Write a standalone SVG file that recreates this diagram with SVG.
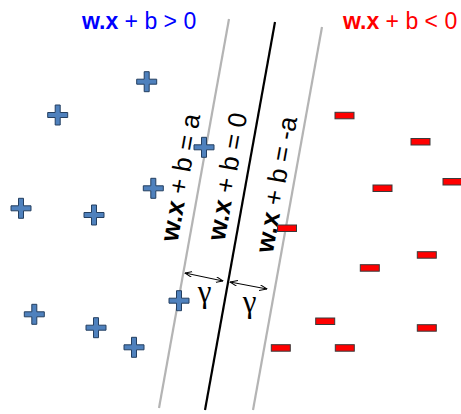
<svg xmlns="http://www.w3.org/2000/svg" xmlns:xlink="http://www.w3.org/1999/xlink" width="461" height="414" viewBox="0 0 461 414">
  <style>
    .sans { font-family: "Liberation Sans", Arial, sans-serif; }
    .hdr { font-size: 23px; }
    .eq { font-size: 26px; fill: #000; }
    .b { font-weight: bold; }
    .gamma { font-family: "Liberation Serif", "Times New Roman", serif; font-size: 31px; fill: #000; }
    .margin { stroke: #b4b4b4; stroke-width: 2.2; fill: none; }
    .boundary { stroke: #000; stroke-width: 2.2; fill: none; }
    .dim { stroke: #000; stroke-width: 1; fill: none; }
    .pos { fill: #4f81bd; stroke: #243f60; stroke-width: 1; }
    .neg { fill: #ff0000; stroke: #3a3a3a; stroke-width: 1; }
  </style>
  <defs>
    <path id="plus" d="M-2.5,-10 h5 v7.5 h7.5 v5 h-7.5 v7.5 h-5 v-7.5 h-7.5 v-5 h7.5 z"/>
    <rect id="minus" x="0" y="0" width="19" height="6.5"/>
    <marker id="tip" viewBox="0 0 8 6" refX="7.5" refY="3" markerWidth="8" markerHeight="6" markerUnits="userSpaceOnUse" orient="auto-start-reverse">
      <path d="M0,0 L7.5,3 L0,6" fill="none" stroke="#000" stroke-width="1"/>
    </marker>
  </defs>

  <rect width="461" height="414" fill="#fff"/>

  <!-- side labels -->
  <g id="label-positive">
    <text class="sans hdr" x="82" y="29" fill="#0000ff"><tspan class="b">w.x</tspan> + b &gt; 0</text>
  </g>
  <g id="label-negative">
    <text class="sans hdr" x="343" y="29" fill="#ff0000"><tspan class="b">w.x</tspan> + b &lt; 0</text>
  </g>

  <!-- separating hyperplane and margins -->
  <g id="lines">
    <line id="margin-pos" class="margin" x1="229" y1="19" x2="159" y2="408"/>
    <line id="hyperplane" class="boundary" x1="275" y1="22" x2="205" y2="410"/>
    <line id="margin-neg" class="margin" x1="322" y1="27" x2="253" y2="410"/>
  </g>

  <!-- line equations -->
  <g id="eq-pos">
    <text class="sans eq" text-anchor="middle" transform="translate(189,179) rotate(-79.8)"><tspan class="b">w.x</tspan> + b = a</text>
  </g>
  <g id="eq-zero">
    <text class="sans eq" text-anchor="middle" transform="translate(236,178) rotate(-79.8)"><tspan class="b">w.x</tspan> + b = 0</text>
  </g>
  <g id="eq-neg">
    <text class="sans eq" text-anchor="middle" transform="translate(285,186) rotate(-79.8)"><tspan class="b">w.x</tspan> + b = -a</text>
  </g>

  <!-- margin width arrows -->
  <g id="connectors">
    <line class="dim" x1="185" y1="273" x2="223" y2="281" marker-start="url(#tip)" marker-end="url(#tip)"/>
    <line class="dim" x1="230" y1="282" x2="267" y2="289" marker-start="url(#tip)" marker-end="url(#tip)"/>
  </g>
  <g id="gamma-left"><text class="gamma" x="204.5" y="302" text-anchor="middle">γ</text></g>
  <g id="gamma-right"><text class="gamma" x="249.5" y="312" text-anchor="middle">γ</text></g>

  <!-- positive samples -->
  <g id="positives" class="pos">
    <use xlink:href="#plus" x="146.7" y="81.7"/>
    <use xlink:href="#plus" x="57.7" y="115"/>
    <use xlink:href="#plus" x="204" y="147.3"/>
    <use xlink:href="#plus" x="153.3" y="188.3"/>
    <use xlink:href="#plus" x="21" y="208.3"/>
    <use xlink:href="#plus" x="94" y="215"/>
    <use xlink:href="#plus" x="179" y="300.7"/>
    <use xlink:href="#plus" x="34.3" y="314.3"/>
    <use xlink:href="#plus" x="96" y="327.7"/>
    <use xlink:href="#plus" x="134" y="347.3"/>
  </g>

  <!-- negative samples -->
  <g id="negatives" class="neg">
    <use xlink:href="#minus" x="335" y="112.3"/>
    <use xlink:href="#minus" x="411" y="138.5"/>
    <use xlink:href="#minus" x="373" y="185"/>
    <use xlink:href="#minus" x="443" y="178.5"/>
    <use xlink:href="#minus" x="277.5" y="225"/>
    <use xlink:href="#minus" x="417.3" y="251.7"/>
    <use xlink:href="#minus" x="360.3" y="264.7"/>
    <use xlink:href="#minus" x="315.7" y="318"/>
    <use xlink:href="#minus" x="417.3" y="324.7"/>
    <use xlink:href="#minus" x="271.3" y="344.7"/>
    <use xlink:href="#minus" x="335.3" y="344.7"/>
  </g>
</svg>
